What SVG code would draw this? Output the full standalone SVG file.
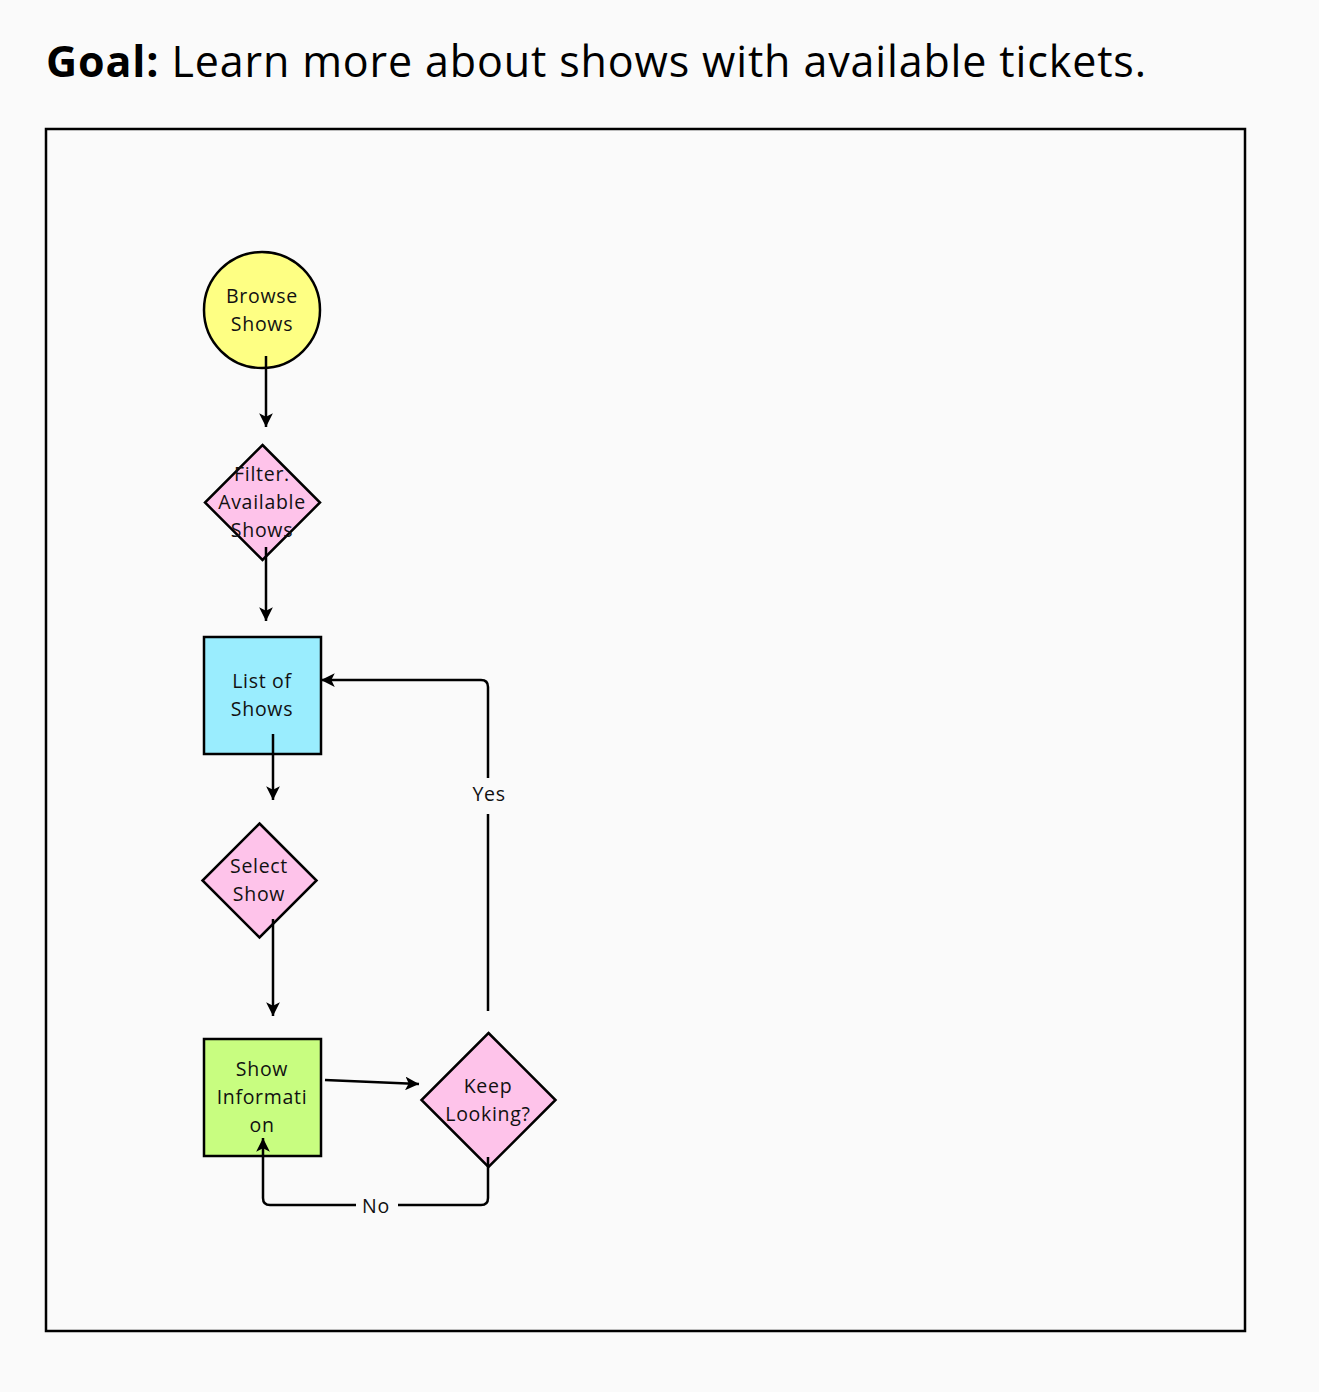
<svg xmlns="http://www.w3.org/2000/svg" width="1319" height="1392" viewBox="0 0 1319 1392">
<defs>
<style>
.n{stroke:#000;stroke-width:2.5}
.t{font-family:"Open Sans",Lato,sans-serif;font-size:19.5px;letter-spacing:0.7px;fill:#111;text-anchor:middle}
.c{fill:none;stroke:#000;stroke-width:2.5}
.lbl{font-family:"Open Sans",Lato,sans-serif;font-size:19.5px;letter-spacing:0.7px;fill:#111;text-anchor:middle}
</style>
<marker id="ah" viewBox="0 0 10 10" refX="10" refY="5" markerWidth="5.5" markerHeight="5.5" markerUnits="strokeWidth" orient="auto">
<path d="M0,0 L10,5 L0,10 L2.5,5 Z" fill="#000"/>
</marker>
</defs>
<rect width="1319" height="1392" fill="#fafafa"/>
<text x="46" y="77" font-family="'Open Sans',Lato,sans-serif" font-size="43" fill="#000" textLength="1100" lengthAdjust="spacing"><tspan font-weight="bold">Goal:</tspan> Learn more about shows with available tickets.</text>
<rect x="46" y="129" width="1199" height="1202" fill="none" stroke="#000" stroke-width="2.5"/>
<g id="browse-shows">
<circle class="n" cx="262" cy="310" r="58" fill="#feff83"/>
<text class="t" x="262" y="303">Browse</text>
<text class="t" x="262" y="331">Shows</text>
</g>
<g id="filter-available-shows">
<polygon class="n" points="262.5,445 320,502.5 262.5,560 205,502.5" fill="#fec3ea"/>
<text class="t" x="262" y="481">Filter.</text>
<text class="t" x="262" y="509">Available</text>
<text class="t" x="262" y="537">Shows</text>
</g>
<g id="list-of-shows">
<rect class="n" x="204" y="637" width="117" height="117" fill="#9aedfe"/>
<text class="t" x="262" y="688">List of</text>
<text class="t" x="262" y="716">Shows</text>
</g>
<g id="select-show">
<polygon class="n" points="259.5,823.5 316.5,880.5 259.5,937.5 202.5,880.5" fill="#fec3ea"/>
<text class="t" x="259" y="873">Select</text>
<text class="t" x="259" y="901">Show</text>
</g>
<g id="show-information">
<rect class="n" x="204" y="1039" width="117" height="117" fill="#c8fd80"/>
<text class="t" x="262" y="1076">Show</text>
<text class="t" x="262" y="1104">Informati</text>
<text class="t" x="262" y="1132">on</text>
</g>
<g id="keep-looking">
<polygon class="n" points="488.5,1033 555.5,1100 488.5,1167 421.5,1100" fill="#fec3ea"/>
<text class="t" x="488" y="1093">Keep</text>
<text class="t" x="488" y="1121">Looking?</text>
</g>
<g id="connectors">
<path class="c" d="M266,356 L266,427" marker-end="url(#ah)"/>
<path class="c" d="M266,547 L266,621" marker-end="url(#ah)"/>
<path class="c" d="M273,734 L273,800" marker-end="url(#ah)"/>
<path class="c" d="M273,919 L273,1016" marker-end="url(#ah)"/>
<path class="c" d="M325,1080 L419,1084" marker-end="url(#ah)"/>
<path class="c" d="M488,1011 L488,814 M488,778 L488,687 Q488,680 481,680 L321,680" marker-end="url(#ah)"/>
<text class="lbl" x="489" y="801">Yes</text>
<path class="c" d="M488,1157 L488,1198 Q488,1205 481,1205 L398,1205 M356,1205 L270,1205 Q263,1205 263,1198 L263,1138" marker-end="url(#ah)"/>
<text class="lbl" x="376" y="1213">No</text>
</g>
</svg>
